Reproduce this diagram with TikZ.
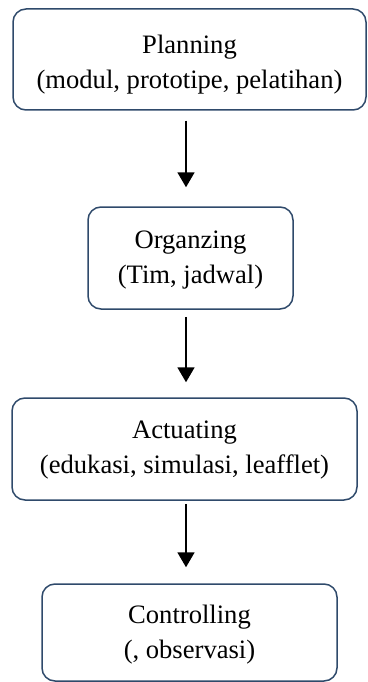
\documentclass[tikz,border=0pt]{standalone}
\usepackage{fontspec}
\setmainfont{Liberation Serif}
\usetikzlibrary{arrows.meta}
\definecolor{boxline}{HTML}{2F4A6B}
\newcommand{\lowtext}[3]{\raisebox{-#1}[\height][\depth]{\parbox{#2}{\centering #3}}}
\begin{document}
\begin{tikzpicture}[x=1pt,y=-1pt,
  box/.style={draw=boxline, line width=1.5pt, rounded corners=13pt, fill=white,
              align=center, inner sep=0pt, font=\fontsize{26.6}{35}\selectfont},
  arr/.style={line width=1.8pt, -{Triangle[width=17pt,length=15pt]}}]
\useasboundingbox (0,0) rectangle (367,682);
\node[box, minimum width=353pt, minimum height=101pt] (plan) at (189.5,59.5)
  {\lowtext{5pt}{345pt}{Planning\\(modul, prototipe, pelatihan)}};
\node[box, minimum width=205pt, minimum height=102pt] (org) at (190.5,258)
  {\lowtext{2pt}{200pt}{Organzing\\(Tim, jadwal)}};
\node[box, minimum width=345pt, minimum height=102pt] (act) at (184.5,449)
  {\lowtext{1pt}{340pt}{Actuating\\(edukasi, simulasi, leafflet)}};
\node[box, minimum width=295pt, minimum height=97pt] (ctrl) at (189.5,632.5)
  {\lowtext{2pt}{290pt}{Controlling\\(, observasi)}};
\coordinate (ax) at (186,0);
\draw[arr, shorten <=10pt, shorten >=19pt] (plan.south -| ax) -- (org.north -| ax);
\draw[arr, shorten <=7pt, shorten >=15pt] (org.south -| ax) -- (act.north -| ax);
\draw[arr, shorten <=3pt, shorten >=16pt] (act.south -| ax) -- (ctrl.north -| ax);
\end{tikzpicture}
\end{document}
